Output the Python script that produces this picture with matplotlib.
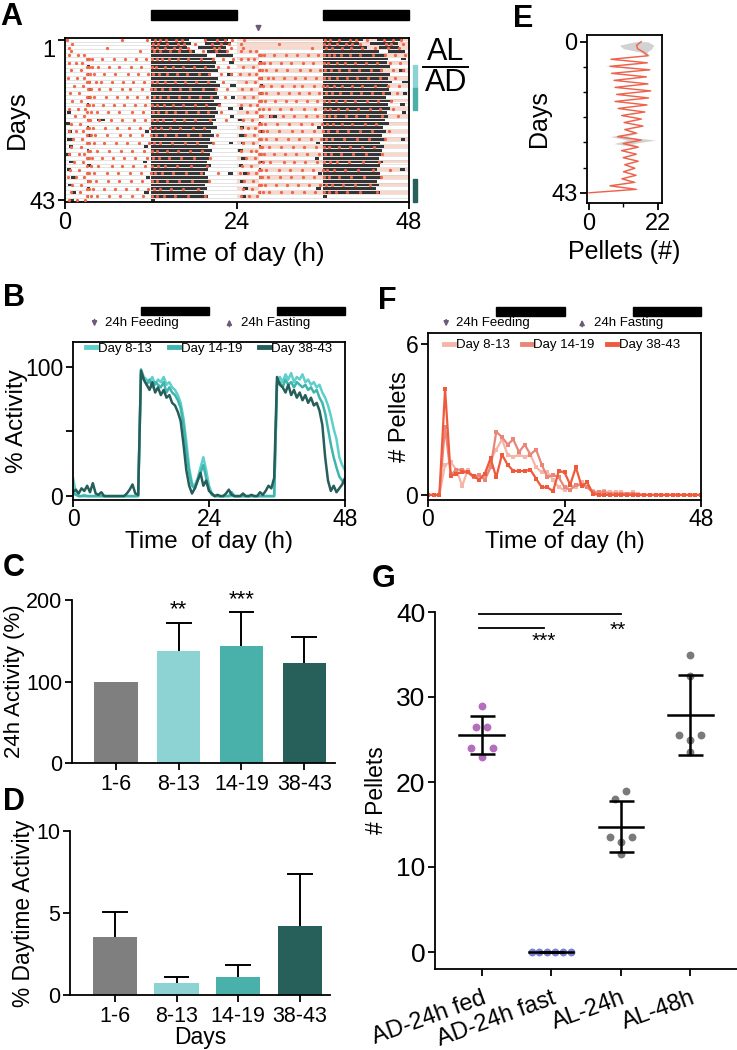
import numpy as np
import matplotlib
matplotlib.use("Agg")
import matplotlib.pyplot as plt
from matplotlib.patches import Rectangle
import matplotlib.transforms as mtransforms

plt.rcParams['font.family'] = ['Liberation Sans', 'DejaVu Sans']

# ======================= DATA =======================
# ---- Panel A: double-plotted actogram ----
al_days = [1, 2, 3, 4]                       # ad libitum days
fed_days = [6, 8, 10, 12, 14, 16, 18, 20, 22, 24, 26, 28, 30, 32, 34, 36, 38, 40, 42]
FEED_ZT = 3                                  # food given / removed at ZT3
act_bouts = [
    [(12.0, 17.3), (19.4, 22.8)], [(12.0, 17.6), (19.6, 23.1)], [(12.0, 17.0), (18.6, 22.4)],
    [(12.0, 18.2), (19.8, 22.6)], [(12.0, 19.8), (21.0, 23.5)], [(3.0, 3.4), (12.0, 20.6)],
    [(12.0, 21.0), (22.9, 23.6)], [(3.1, 3.5), (12.0, 20.9)], [(12.0, 21.3)],
    [(3.0, 3.3), (12.0, 20.4), (22.6, 23.4)], [(12.0, 21.4)], [(3.0, 3.6), (12.0, 21.1)],
    [(12.0, 21.6), (23.0, 23.8)], [(3.2, 3.6), (12.0, 21.0)], [(12.0, 21.2)],
    [(3.0, 3.5), (12.0, 21.5), (23.1, 23.7)], [(12.0, 20.8)], [(3.0, 3.4), (12.0, 21.8)],
    [(12.0, 21.0), (22.8, 23.5)], [(0.3, 0.8), (12.0, 21.3)], [(12.0, 20.9), (23.0, 23.6)],
    [(3.0, 3.5), (4.5, 5.6), (12.0, 21.0)], [(0.2, 0.7), (12.0, 20.6)], [(3.0, 3.4), (12.0, 21.2)],
    [(0.4, 1.0), (11.2, 11.7), (12.0, 20.4)], [(3.1, 3.6), (12.0, 20.8)], [(0.3, 1.2), (12.0, 20.2)],
    [(3.0, 3.5), (12.0, 20.6), (22.9, 23.5)], [(0.5, 1.1), (11.0, 11.6), (12.0, 20.0)],
    [(3.0, 3.4), (12.0, 20.5)], [(0.2, 0.9), (12.0, 20.3)], [(3.1, 3.5), (12.0, 20.1)],
    [(0.6, 1.3), (10.9, 11.5), (12.0, 19.8)], [(3.0, 3.6), (12.0, 20.4)], [(0.3, 0.9), (12.0, 20.0)],
    [(3.0, 3.4), (12.0, 19.6), (22.8, 23.4)], [(0.8, 1.5), (11.3, 11.8), (12.0, 19.9)],
    [(3.1, 3.6), (12.0, 20.2)], [(0.4, 1.1), (12.0, 19.5)], [(3.0, 3.5), (12.0, 19.8)],
    [(0.9, 1.6), (11.0, 11.7), (12.0, 19.4)], [(3.0, 3.4), (12.0, 19.9)],
    [(0.5, 1.2), (12.0, 12.5)], [],
]
pellet_times = [
    [0.3, 7.9, 11.4, 12.5, 13.2, 14.1, 15.5, 16.3, 19.6, 21.2, 22.3, 23.3],
    [1.0, 12.3, 13.0, 14.2, 15.8, 16.6, 18.1, 20.5, 21.8, 22.9],
    [0.5, 5.8, 12.2, 12.9, 14.0, 15.2, 16.0, 17.1, 20.8, 21.5, 23.1],
    [0.8, 10.5, 12.4, 13.3, 14.6, 15.9, 17.4, 19.2, 21.0, 22.6],
    [0.6, 1.8, 2.7],
    [3.1, 3.4, 3.7, 5.2, 6.8, 8.4, 9.9, 11.3, 12.2, 12.8, 13.6, 14.5, 15.7, 17.2, 19.0, 20.6, 22.1, 23.4],
    [0.6, 1.5, 2.4],
    [3.0, 3.3, 3.8, 4.6, 6.1, 7.5, 9.2, 10.6, 12.1, 12.7, 13.9, 15.1, 16.4, 18.0, 19.6, 21.3, 22.8],
    [0.9, 2.2],
    [3.1, 3.5, 4.0, 5.5, 7.0, 8.8, 10.2, 11.6, 12.3, 13.1, 14.2, 15.6, 17.0, 18.7, 20.1, 21.7, 23.2],
    [0.4, 1.7, 2.7],
    [3.0, 3.4, 4.3, 5.0, 6.6, 8.1, 9.5, 11.0, 12.2, 12.9, 14.0, 15.3, 16.8, 18.3, 19.9, 22.0],
    [1.2, 2.5],
    [3.2, 3.6, 4.8, 6.3, 7.9, 9.0, 10.8, 12.0, 12.6, 13.5, 14.7, 16.0, 17.5, 19.2, 21.0, 22.6],
    [0.7, 2.0],
    [3.0, 3.5, 4.1, 5.7, 7.2, 8.6, 10.1, 11.5, 12.4, 13.2, 14.4, 15.9, 17.3, 18.9, 20.4, 22.3],
    [1.0, 2.3],
    [3.1, 3.3, 3.9, 5.3, 6.9, 8.3, 9.7, 11.2, 12.1, 12.8, 13.8, 15.0, 16.5, 18.1, 19.7, 21.5],
    [0.5, 1.8, 2.8],
    [3.0, 3.6, 4.4, 6.0, 7.6, 9.3, 10.9, 12.3, 13.0, 14.1, 15.4, 16.9, 18.5, 20.0, 21.8],
    [1.4, 2.6],
    [3.2, 3.5, 4.7, 6.4, 8.0, 9.6, 11.1, 12.2, 12.9, 13.7, 15.2, 16.6, 18.2, 20.3, 22.5],
    [0.8, 2.1],
    [3.0, 3.4, 3.9, 5.6, 7.3, 8.9, 10.4, 11.8, 12.5, 13.4, 14.6, 16.1, 17.8, 19.4],
    [0.6, 1.6, 2.5],
    [3.1, 3.6, 4.2, 5.9, 7.7, 9.1, 10.7, 12.0, 12.7, 13.9, 15.5, 17.1, 18.8, 21.2],
    [1.1, 2.4],
    [3.0, 3.3, 4.0, 5.4, 7.1, 8.7, 10.3, 11.7, 12.4, 13.3, 14.9, 16.7, 18.4, 20.7],
    [0.9, 2.2],
    [3.2, 3.5, 4.5, 6.2, 7.8, 9.4, 11.0, 12.1, 12.8, 14.3, 15.8, 17.4, 19.1],
    [0.5, 1.9, 2.7],
    [3.0, 3.4, 3.8, 5.1, 6.7, 8.2, 9.8, 11.4, 12.3, 13.1, 14.5, 16.2, 18.0, 20.2],
    [1.3, 2.5],
    [3.1, 3.6, 4.6, 6.5, 8.0, 9.5, 11.2, 12.2, 13.0, 14.0, 15.6, 17.6, 19.8],
    [0.7, 2.0],
    [3.0, 3.3, 4.1, 5.8, 7.4, 9.0, 10.6, 12.0, 12.6, 13.6, 15.1, 16.9, 19.0, 21.4],
    [0.4, 1.5, 2.6],
    [3.2, 3.5, 4.3, 6.0, 7.6, 9.2, 10.8, 12.1, 12.9, 14.2, 15.9, 17.7, 20.1],
    [1.0, 2.3],
    [3.0, 3.4, 3.9, 5.5, 7.0, 8.5, 10.0, 11.6, 12.4, 13.3, 14.8, 16.4, 18.6],
    [0.8, 2.1],
    [3.1, 3.6, 4.4, 6.1, 7.7, 9.3, 10.9, 12.2, 12.8, 13.8, 15.3, 17.2, 19.5],
    [0.6, 1.7, 2.8],
    [],
]
a_group_rows = [(8, 13), (14, 19), (38, 43)]

# ---- Panel E: daily pellets ----
e_days = list(range(44))
e_pellets = [16.7, 15.2, 15.5, 17.5, 18.8, 7.0, 18.6, 6.7, 19.4, 7.2, 18.3, 8.0, 18.8, 8.3,
             19.7, 8.8, 19.0, 8.3, 18.5, 9.3, 17.8, 10.4, 16.7, 11.2, 17.2, 11.4, 15.1, 9.1,
             16.7, 10.9, 15.7, 10.4, 15.1, 10.9, 15.7, 11.4, 14.6, 11.0, 15.0, 10.5, 14.5, 6.7,
             15.1, 0.0]
e_sd = [2.0, 5.5, 4.5, 1.0, 0.6, 0.6, 0.4, 1.6, 0.4, 0.4, 0.4, 0.4, 0.4, 0.4,
        0.4, 0.4, 0.4, 0.4, 0.4, 0.4, 0.4, 0.4, 0.4, 0.4, 0.4, 0.4, 0.8, 2.4,
        4.5, 3.0, 0.4, 0.4, 0.4, 0.4, 0.4, 0.4, 0.4, 0.4, 0.4, 0.4, 1.0, 0.4,
        1.2, 0.0]

# ---- Panel B: % activity profiles (0.5 h bins) ----
b_hours = np.arange(0, 48.5, 0.5)
b_day8_13 = [14, 3, 0, 0, 1, 0, 0, 0, 0, 0, 0, 0, 0, 0, 0, 0, 0, 0, 0, 0, 0, 0, 0, 0,
             98, 92, 90, 88, 92, 86, 90, 88, 92, 86, 88, 84, 82, 78, 72, 60, 42, 22, 10, 8, 14, 22, 30, 20, 8,
             2, 0, 0, 0, 0, 0, 0, 0, 0, 0, 0, 0, 0, 0, 0, 0, 0, 0, 0, 0, 0, 0, 0,
             88, 92, 88, 94, 90, 95, 88, 92, 90, 94, 88, 90, 86, 88, 84, 86, 80, 76, 70, 62, 52, 44, 30, 24, 20]
b_day14_19 = [2, 1, 0, 0, 0, 0, 0, 0, 0, 0, 0, 0, 0, 0, 0, 0, 0, 0, 0, 0, 0, 0, 0, 0,
              95, 90, 86, 90, 84, 88, 86, 84, 88, 80, 84, 80, 78, 74, 68, 55, 35, 18, 8, 6, 12, 18, 24, 14, 5,
              1, 0, 0, 0, 0, 0, 0, 3, 0, 0, 0, 0, 0, 0, 0, 0, 0, 0, 0, 0, 0, 0, 0,
              86, 88, 84, 90, 86, 88, 84, 88, 86, 84, 86, 82, 84, 80, 82, 76, 72, 64, 52, 40, 30, 22, 15, 12, 10]
b_day38_43 = [3, 5, 2, 6, 4, 8, 3, 10, 2, 1, 3, 0, 0, 0, 0, 0, 0, 0, 0, 2, 5, 9, 2, 1,
              97, 90, 86, 82, 88, 80, 84, 78, 82, 76, 78, 72, 70, 65, 58, 40, 20, 8, 2, 6, 12, 18, 8, 12, 4,
              2, 0, 1, 0, 0, 2, 5, 1, 0, 0, 0, 2, 0, 0, 1, 0, 0, 3, 1, 4, 8, 6, 14,
              92, 86, 84, 80, 86, 78, 82, 76, 80, 74, 78, 72, 76, 70, 72, 66, 55, 30, 12, 4, 8, 3, 6, 9, 14]

# ---- Panel F: pellets per hour ----
f_hours = np.arange(0, 49, 1)
f_day8_13 = [0, 0, 0, 1.2, 1.3, 1.0, 0.35, 1.0, 0.7, 0.7, 0.7, 1.4, 1.8, 2.2, 1.6, 1.5, 1.6, 1.5, 1.6,
             1.1, 0.9, 0.9, 0.6, 0.3, 0.2, 0.4, 0.3, 0.5, 0.3, 0.15, 0.1, 0.15, 0.1, 0.1, 0.1, 0.05,
             0.1, 0.05, 0, 0, 0, 0, 0, 0, 0, 0, 0, 0, 0]
f_day14_19 = [0, 0, 0, 2.7, 0.8, 1.0, 1.0, 0.9, 0.7, 0.8, 0.6, 1.1, 2.5, 2.3, 2.0, 2.2, 1.7, 2.0, 1.6,
              1.8, 1.2, 0.7, 0.8, 0.7, 0.3, 0.2, 0.4, 0.4, 0.3, 0.1, 0.1, 0.1, 0.05, 0.05, 0.05, 0.05,
              0.05, 0, 0, 0, 0, 0, 0, 0, 0, 0, 0, 0, 0]
f_day38_43 = [0, 0, 0, 4.2, 0.75, 0.85, 0.9, 0.9, 0.75, 0.6, 0.85, 1.45, 0.7, 1.6, 1.2, 0.95, 0.95,
              0.95, 1.0, 0.65, 0.3, 0.3, 0.15, 0.95, 0.9, 0.4, 1.1, 0.35, 0.5, 0.05, 0, 0, 0, 0, 0,
              0, 0, 0, 0, 0, 0, 0, 0, 0, 0, 0, 0, 0, 0]

# ---- Panels C and D ----
cd_groups = ['1-6', '8-13', '14-19', '38-43']
c_mean = [100, 138, 144, 123]
c_err = [0, 34, 41, 32]
c_stars = ['', '**', '***', '']
d_mean = [3.55, 0.71, 1.08, 4.22]
d_err = [1.52, 0.41, 0.72, 3.18]

# ---- Panel G ----
g_groups = ['AD-24h fed', 'AD-24h fast', 'AL-24h', 'AL-48h']
g_values = [[29.0, 26.5, 26.5, 24.0, 24.0, 23.0],
            [0, 0, 0, 0, 0, 0],
            [19.0, 18.0, 13.5, 13.5, 13.0, 11.5],
            [35.0, 32.5, 25.5, 25.5, 25.0, 23.5]]
g_sig_lines = [(0, 2, 39.8), (0, 1, 38.1)]
g_sig_text = [(0.9, 36.5, '***'), (1.95, 37.8, '**')]

# ======================= STYLE =======================
W, H = 737, 1050
fig = plt.figure(figsize=(W / 100, H / 100), dpi=100)

def ax_px(l, t, r, b):
    return fig.add_axes([l / W, 1 - b / H, (r - l) / W, (b - t) / H])

LW = 1.3
PURPLE = '#6d5a7a'
teal = ['#8dd3d3', '#49b0aa', '#275f5b']
teal_line = ['#5ecfcb', '#3fb5ad', '#265e5a']
salmon_line = ['#f5b6a8', '#e8867a', '#f05a3c']

def style(ax, spines=('left', 'bottom'), labelsize=17):
    for s in ['left', 'right', 'top', 'bottom']:
        ax.spines[s].set_visible(s in spines)
        ax.spines[s].set_linewidth(LW)
    ax.tick_params(direction='out', length=5, width=LW, labelsize=labelsize, pad=2)

def letter(x, y, s):
    fig.text(x / W, 1 - y / H, s, fontsize=22, fontweight='bold', va='top', ha='left')

def up_errorbars(ax, xs, means, errs, cap):
    for x, m, e in zip(xs, means, errs):
        if e > 0:
            ax.plot([x, x], [m, m + e], color='black', lw=1.4, zorder=1, solid_capstyle='butt')
            ax.plot([x - cap, x + cap], [m + e, m + e], color='black', lw=1.4, zorder=1)

# ======================= PANEL A =======================
axA = ax_px(65, 38, 409, 202)
style(axA, ('left', 'right', 'top', 'bottom'))
food = [((min(al_days) - 1) * 24, max(al_days) * 24 + FEED_ZT)]
food += [((d - 1) * 24 + FEED_ZT, d * 24 + FEED_ZT) for d in fed_days]
nrows = 43
for r in range(1, nrows + 1):
    axA.plot([0, 48], [r + 0.42, r + 0.42], color='#cfcfcf', lw=0.4, zorder=1)
    s0, e0 = r * 24, (r + 1) * 24
    for a, b in food:
        lo, hi = max(a, s0), min(b, e0)
        if hi > lo:
            axA.add_patch(Rectangle((24 + lo - s0, r - 0.45), hi - lo, 0.84,
                                    facecolor='#fcd7c9', lw=0, zorder=0))
    for off, day in ((0, r), (24, r + 1)):
        if day - 1 < len(act_bouts):
            for s, e in act_bouts[day - 1]:
                axA.add_patch(Rectangle((off + s, r - 0.35), e - s, 0.74,
                                        facecolor='#353535', lw=0, zorder=2))
        if day - 1 < len(pellet_times):
            pts = pellet_times[day - 1]
            axA.scatter([off + p for p in pts], [r] * len(pts), s=5.5, marker='o',
                        color='#f2664a', lw=0, zorder=3)
axA.set_xlim(0, 48)
axA.set_ylim(43.5, 0.5)
axA.set_xticks([0, 24, 48])
axA.set_yticks([1, 43])
axA.set_yticklabels(['1', '43'])
lab1 = axA.get_yticklabels()[0]
lab1.set_transform(lab1.get_transform() + mtransforms.ScaledTranslation(0, -0.09, fig.dpi_scale_trans))
axA.set_xlabel('Time of day (h)', fontsize=18.8, labelpad=6)
axA.set_ylabel('Days', fontsize=18.5, labelpad=0)
trA = mtransforms.blended_transform_factory(axA.transData, axA.transAxes)
for x0 in (12, 36):
    axA.add_patch(Rectangle((x0, 1.11), 12, 0.06, transform=trA, color='black', clip_on=False))
axA.annotate('', xy=(27, 1.02), xytext=(27, 1.09), xycoords=trA, textcoords=trA,
             arrowprops=dict(arrowstyle='-|>', color=PURPLE, lw=1.2, mutation_scale=8))
for (r0, r1), c in zip(a_group_rows, teal):
    axA.add_patch(Rectangle((48.55, r0 - 0.5), 0.55, r1 - r0 + 1, color=c, clip_on=False))
fig.text(446 / W, 1 - 52 / H, 'AL', fontsize=22, ha='center', va='center')
fig.text(446 / W, 1 - 83 / H, 'AD', fontsize=22, ha='center', va='center')
fig.add_artist(plt.Line2D([423 / W, 468 / W], [1 - 66.5 / H, 1 - 66.5 / H], color='black', lw=1.4))
letter(0, 2, 'A')

# ======================= PANEL E =======================
axE = ax_px(587, 35, 662, 203)
style(axE, ('left', 'right', 'top', 'bottom'))
ep = np.array(e_pellets)
esd = np.array(e_sd)
axE.fill_betweenx(e_days, ep - esd, ep + esd, color='#d2d2d2', lw=0, zorder=1)
axE.plot(ep, e_days, color='#f0604a', lw=1.0, zorder=2)
axE.set_ylim(45.9, -1.9)
axE.set_xlim(-0.64, 23.3)
axE.set_yticks([0, 43])
axE.set_yticks(np.linspace(0, 43, 7)[1:-1], minor=True)
axE.set_xticks([0, 22])
axE.set_xticks([11], minor=True)
axE.tick_params(which='minor', direction='out', length=3, width=1)
axE.set_ylabel('Days', fontsize=18, labelpad=0)
axE.set_xlabel('Pellets (#)', fontsize=18, labelpad=4)
letter(513, 4, 'E')

# ======================= PANEL B =======================
axB = ax_px(73, 342, 345, 500)
style(axB, ('left', 'right', 'top', 'bottom'), labelsize=16.5)
axB.tick_params(axis='x', pad=1)
for vals, c, lab in zip([b_day8_13, b_day14_19, b_day38_43], teal_line,
                        ['Day 8-13', 'Day 14-19', 'Day 38-43']):
    axB.plot(b_hours, vals, color=c, lw=1.8, label=lab)
axB.set_xlim(0, 48)
axB.set_ylim(-3, 119)
axB.set_xticks([0, 24, 48])
axB.set_yticks([0, 50, 100])
axB.set_yticklabels(['0', '', '100'])
axB.set_xlabel('Time  of day (h)', fontsize=17.4, labelpad=0)
axB.set_ylabel('% Activity', fontsize=17.5, labelpad=-2)
axB.legend(ncol=3, loc='upper center', bbox_to_anchor=(0.5, 1.03), frameon=False, fontsize=9.5,
           handlelength=0.8, handletextpad=0.1, columnspacing=1.3, borderaxespad=0)
for lh in axB.get_legend().get_lines():
    lh.set_linewidth(3.5)
trB = mtransforms.blended_transform_factory(axB.transData, axB.transAxes)
for x0 in (12, 36):
    axB.add_patch(Rectangle((x0, 1.171), 12, 0.05, transform=trB, color='black', clip_on=False))
axB.annotate('', xy=(3.8, 1.08), xytext=(3.8, 1.16), xycoords=trB, textcoords=trB,
             arrowprops=dict(arrowstyle='-|>', color=PURPLE, lw=1.2, mutation_scale=7))
axB.annotate('', xy=(27.6, 1.16), xytext=(27.6, 1.08), xycoords=trB, textcoords=trB,
             arrowprops=dict(arrowstyle='-|>', color=PURPLE, lw=1.2, mutation_scale=7))
axB.text(5.6, 1.12, '24h Feeding', transform=trB, fontsize=9.5, va='center')
axB.text(29.7, 1.12, '24h Fasting', transform=trB, fontsize=9.5, va='center')
letter(3, 283, 'B')

# ======================= PANEL F =======================
axF = ax_px(428, 333, 701, 500)
style(axF, ('left', 'right', 'top', 'bottom'), labelsize=16.5)
axF.tick_params(axis='x', pad=1)
for vals, c, lab in zip([f_day8_13, f_day14_19, f_day38_43], salmon_line,
                        ['Day 8-13', 'Day 14-19', 'Day 38-43']):
    axF.plot(f_hours, vals, color=c, lw=1.6, marker='s', ms=2.6, mew=0, label=lab)
axF.set_xlim(0, 48)
axF.set_ylim(-0.2, 6.42)
axF.set_xticks([0, 24, 48])
axF.set_yticks([0, 6])
axF.set_xlabel('Time of day (h)', fontsize=17.2, labelpad=0)
axF.set_ylabel('# Pellets', fontsize=17, labelpad=-4)
axF.legend(ncol=3, loc='upper center', bbox_to_anchor=(0.49, 0.995), frameon=False, fontsize=9.5,
           handlelength=0.8, handletextpad=0.1, columnspacing=0.9, borderaxespad=0)
for lh in axF.get_legend().get_lines():
    lh.set_linewidth(3.5)
    lh.set_marker('')
trF = mtransforms.blended_transform_factory(axF.transData, axF.transAxes)
for x0 in (12, 36):
    axF.add_patch(Rectangle((x0, 1.102), 12, 0.054, transform=trF, color='black', clip_on=False))
axF.annotate('', xy=(3.2, 1.022), xytext=(3.2, 1.096), xycoords=trF, textcoords=trF,
             arrowprops=dict(arrowstyle='-|>', color=PURPLE, lw=1.2, mutation_scale=7))
axF.annotate('', xy=(27.1, 1.096), xytext=(27.1, 1.022), xycoords=trF, textcoords=trF,
             arrowprops=dict(arrowstyle='-|>', color=PURPLE, lw=1.2, mutation_scale=7))
axF.text(5.0, 1.06, '24h Feeding', transform=trF, fontsize=9.5, va='center')
axF.text(29.2, 1.06, '24h Fasting', transform=trF, fontsize=9.5, va='center')
letter(378, 286, 'F')

# ======================= PANEL C =======================
bar_colors = ['#7f7f7f'] + teal
axC = ax_px(72, 600, 335, 763)
style(axC, labelsize=15.5)
xs = np.arange(len(cd_groups))
axC.bar(xs, c_mean, width=0.69, color=bar_colors, zorder=2)
up_errorbars(axC, xs, c_mean, c_err, 0.19)
for x, m, e, s in zip(xs, c_mean, c_err, c_stars):
    if s:
        axC.text(x, m + e + 3, s, ha='center', va='bottom', fontsize=16, clip_on=False)
axC.set_xlim(-0.70, 3.49)
axC.set_ylim(0, 200)
axC.set_yticks([0, 100, 200])
axC.set_xticks(xs)
axC.set_xticklabels(cd_groups)
axC.tick_params(axis='x', pad=3)
axC.set_ylabel('24h Activity (%)', fontsize=16, labelpad=1)
letter(3, 553, 'C')

# ======================= PANEL D =======================
axD = ax_px(70, 831, 330, 995)
style(axD, labelsize=15.5)
axD.bar(xs, d_mean, width=0.72, color=bar_colors, zorder=2)
up_errorbars(axD, xs, d_mean, d_err, 0.19)
axD.set_xlim(-0.73, 3.49)
axD.set_ylim(0, 10)
axD.set_yticks([0, 5, 10])
axD.set_xticks(xs)
axD.set_xticklabels(cd_groups)
axD.tick_params(axis='x', pad=3)
axD.set_xlabel('Days', fontsize=16.5, labelpad=-1)
axD.set_ylabel('% Daytime Activity', fontsize=16.4, labelpad=1)
letter(3, 787, 'D')

# ======================= PANEL G =======================
axG = ax_px(435, 612, 737, 969)
style(axG, labelsize=19)
g_colors = ['#b36fbb', '#7c80d0', '#7a7a7a', '#7a7a7a']
g_jitter = [[0, -0.077, 0.077, -0.157, 0.157, 0],
            [-0.28, -0.17, -0.06, 0.06, 0.17, 0.28],
            [0.077, -0.077, -0.157, 0.157, 0, 0],
            [0, 0, -0.157, 0.157, 0, 0]]
for i, (vals, c, jit) in enumerate(zip(g_values, g_colors, g_jitter)):
    v = np.array(vals, dtype=float)
    m, sd = v.mean(), v.std(ddof=1)
    axG.plot([i - 0.32, i + 0.32], [m, m], color='black', lw=1.8, zorder=3)
    axG.errorbar([i], [m], yerr=[[sd], [sd]], fmt='none', ecolor='black', elinewidth=1.8,
                 capsize=9, capthick=1.8, zorder=3)
    axG.scatter(i + np.array(jit), v, s=32, color=c, lw=0, zorder=2)
for g0, g1, y in g_sig_lines:
    axG.plot([g0 - 0.04, g1 + (0.01 if g1 == 2 else -0.1)], [y, y], color='black', lw=1.3, clip_on=False)
for x, y, s in g_sig_text:
    axG.text(x, y, s, ha='center', va='center', fontsize=15)
axG.set_xlim(-0.67, 3.67)
axG.set_ylim(-2, 40)
axG.set_yticks([0, 10, 20, 30, 40])
axG.set_xticks(range(4))
axG.set_xticklabels(g_groups, rotation=20, ha='right', rotation_mode='anchor', fontsize=17)
axG.tick_params(axis='x', pad=8)
axG.set_ylabel('# Pellets', fontsize=16.5, labelpad=6)
letter(372, 564, 'G')

fig.savefig('out.png', dpi=100)
